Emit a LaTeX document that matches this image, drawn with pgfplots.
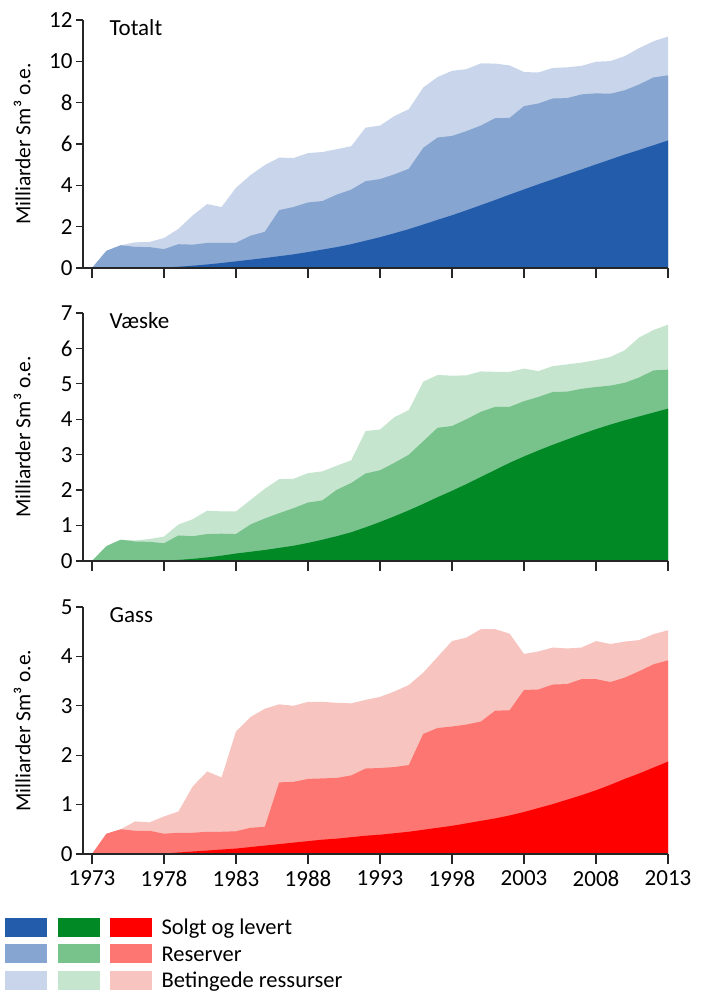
\documentclass[border=0pt]{standalone}
\usepackage{fontspec}
\setmainfont{Carlito}
\usepackage{pgfplots}
\pgfplotsset{compat=1.18}

\definecolor{bS}{RGB}{36,92,172}
\definecolor{bR}{RGB}{134,165,208}
\definecolor{bB}{RGB}{200,213,234}
\definecolor{gS}{RGB}{0,137,37}
\definecolor{gR}{RGB}{120,194,140}
\definecolor{gB}{RGB}{198,229,207}
\definecolor{rS}{RGB}{255,0,0}
\definecolor{rR}{RGB}{253,118,113}
\definecolor{rB}{RGB}{248,196,191}

\newcommand{\fnt}{\fontsize{21.5bp}{26bp}\selectfont}
\newcommand{\tfnt}{\fontsize{23bp}{27bp}\selectfont}
\newcommand{\lfnt}{\fontsize{22.5bp}{27bp}\selectfont}

\pgfplotsset{
  panel/.style={
    scale only axis, width=585bp,
    xmin=1972.375, xmax=2013, ymin=0,
    axis lines*=left, axis on top,
    enlargelimits=false,
    tick align=outside,
    major tick length=7bp,
    xtick={1973,1978,...,2013},
    xtick style={/pgfplots/major tick length=10bp},
    axis line style={line width=1.3bp, black!85},
    tick style={line width=1.3bp, black!85},
    /pgf/number format/assume math mode=true,
    /pgf/number format/1000 sep={},
    tick label style={font=\tfnt},
    xticklabel style={yshift=-6bp},
    label style={font=\fnt},
    ylabel={Milliarder Sm³ o.e.},
    ylabel style={at={(axis description cs:-0.104,0.5)}, anchor=center},
  },
  area/.style={draw=none, fill=#1},
}

\begin{document}
\begin{tikzpicture}[x=1bp,y=1bp]
\useasboundingbox (0,0) rectangle (703,992);

% ---------------- Totalt ----------------
\begin{axis}[panel, at={(83bp,724bp)}, anchor=south west, height=248bp,
  ymax=12, ytick={0,2,...,12}, xticklabels={}]
\addplot[area=bB] coordinates {(1973,0)(1974,0.83)(1975,1.1)(1976,1.24)(1977,1.26)(1978,1.45)(1979,1.89)(1980,2.55)(1981,3.09)(1982,2.95)(1983,3.88)(1984,4.49)(1985,4.98)(1986,5.34)(1987,5.32)(1988,5.56)(1989,5.61)(1990,5.75)(1991,5.89)(1992,6.79)(1993,6.89)(1994,7.35)(1995,7.68)(1996,8.73)(1997,9.24)(1998,9.54)(1999,9.62)(2000,9.9)(2001,9.89)(2002,9.8)(2003,9.48)(2004,9.46)(2005,9.68)(2006,9.71)(2007,9.78)(2008,9.98)(2009,10.01)(2010,10.25)(2011,10.64)(2012,10.97)(2013,11.2)} \closedcycle;
\addplot[area=bR] coordinates {(1973,0)(1974,0.83)(1975,1.1)(1976,1.02)(1977,1.01)(1978,0.91)(1979,1.15)(1980,1.13)(1981,1.21)(1982,1.22)(1983,1.22)(1984,1.56)(1985,1.75)(1986,2.8)(1987,2.95)(1988,3.17)(1989,3.24)(1990,3.55)(1991,3.79)(1992,4.2)(1993,4.3)(1994,4.53)(1995,4.8)(1996,5.81)(1997,6.31)(1998,6.39)(1999,6.62)(2000,6.89)(2001,7.25)(2002,7.26)(2003,7.83)(2004,7.96)(2005,8.2)(2006,8.22)(2007,8.4)(2008,8.45)(2009,8.43)(2010,8.6)(2011,8.88)(2012,9.22)(2013,9.32)} \closedcycle;
\addplot[area=bS] coordinates {(1973,0)(1974,0)(1975,0)(1976,0)(1977,0)(1978,0.02)(1979,0.06)(1980,0.11)(1981,0.17)(1982,0.24)(1983,0.32)(1984,0.4)(1985,0.48)(1986,0.57)(1987,0.66)(1988,0.77)(1989,0.89)(1990,1.01)(1991,1.15)(1992,1.32)(1993,1.49)(1994,1.68)(1995,1.88)(1996,2.1)(1997,2.33)(1998,2.55)(1999,2.79)(2000,3.04)(2001,3.29)(2002,3.55)(2003,3.8)(2004,4.05)(2005,4.29)(2006,4.53)(2007,4.77)(2008,5.01)(2009,5.25)(2010,5.49)(2011,5.71)(2012,5.94)(2013,6.17)} \closedcycle;
\node[anchor=base west, font=\tfnt, inner sep=0pt] at (axis description cs:0.045,0.936) {Totalt};
\end{axis}

% ---------------- Væske ----------------
\begin{axis}[panel, at={(83bp,431bp)}, anchor=south west, height=248bp,
  ymax=7, ytick={0,1,...,7}, xticklabels={}]
\addplot[area=gB] coordinates {(1973,0)(1974,0.42)(1975,0.6)(1976,0.58)(1977,0.62)(1978,0.69)(1979,1.03)(1980,1.18)(1981,1.42)(1982,1.4)(1983,1.4)(1984,1.72)(1985,2.04)(1986,2.31)(1987,2.32)(1988,2.48)(1989,2.53)(1990,2.69)(1991,2.84)(1992,3.67)(1993,3.71)(1994,4.06)(1995,4.26)(1996,5.06)(1997,5.25)(1998,5.23)(1999,5.24)(2000,5.35)(2001,5.34)(2002,5.34)(2003,5.43)(2004,5.36)(2005,5.5)(2006,5.55)(2007,5.6)(2008,5.67)(2009,5.76)(2010,5.95)(2011,6.31)(2012,6.52)(2013,6.67)} \closedcycle;
\addplot[area=gR] coordinates {(1973,0)(1974,0.42)(1975,0.6)(1976,0.55)(1977,0.54)(1978,0.5)(1979,0.72)(1980,0.7)(1981,0.76)(1982,0.77)(1983,0.76)(1984,1.03)(1985,1.2)(1986,1.35)(1987,1.49)(1988,1.65)(1989,1.71)(1990,2.01)(1991,2.2)(1992,2.47)(1993,2.56)(1994,2.77)(1995,3.0)(1996,3.38)(1997,3.76)(1998,3.81)(1999,4.0)(2000,4.21)(2001,4.35)(2002,4.35)(2003,4.51)(2004,4.63)(2005,4.77)(2006,4.78)(2007,4.86)(2008,4.91)(2009,4.95)(2010,5.03)(2011,5.18)(2012,5.38)(2013,5.4)} \closedcycle;
\addplot[area=gS] coordinates {(1973,0)(1974,0)(1975,0)(1976,0)(1977,0)(1978,0.01)(1979,0.03)(1980,0.06)(1981,0.1)(1982,0.15)(1983,0.21)(1984,0.26)(1985,0.31)(1986,0.37)(1987,0.43)(1988,0.51)(1989,0.6)(1990,0.7)(1991,0.81)(1992,0.95)(1993,1.1)(1994,1.26)(1995,1.43)(1996,1.61)(1997,1.8)(1998,1.98)(1999,2.17)(2000,2.37)(2001,2.57)(2002,2.77)(2003,2.95)(2004,3.12)(2005,3.28)(2006,3.43)(2007,3.58)(2008,3.72)(2009,3.85)(2010,3.97)(2011,4.08)(2012,4.19)(2013,4.3)} \closedcycle;
\node[anchor=base west, font=\tfnt, inner sep=0pt] at (axis description cs:0.045,0.936) {Væske};
\end{axis}

% ---------------- Gass ----------------
\begin{axis}[panel, at={(83bp,138bp)}, anchor=south west, height=247bp,
  ymax=5, ytick={0,1,...,5},
  legend columns=3,
  legend image code/.code={
    \fill[#1, draw=none] (0bp,-2bp) rectangle (42bp,17bp);
    \path[draw=none, fill=none] (0bp,-5bp) rectangle (51.5bp,18bp);
  },
  legend style={
    at={(axis description cs:-0.1333,-0.255)}, anchor=north west,
    draw=none, fill=none, inner sep=0pt, outer sep=0pt,
    font=\lfnt, column sep=0pt, row sep=3.5bp,
    nodes={inner sep=0pt},
    cells={anchor=base west},
  },
]
\addplot[area=rB, forget plot] coordinates {(1973,0)(1974,0.41)(1975,0.5)(1976,0.66)(1977,0.64)(1978,0.76)(1979,0.86)(1980,1.37)(1981,1.67)(1982,1.55)(1983,2.48)(1984,2.77)(1985,2.94)(1986,3.03)(1987,3.0)(1988,3.08)(1989,3.08)(1990,3.06)(1991,3.05)(1992,3.12)(1993,3.18)(1994,3.29)(1995,3.42)(1996,3.67)(1997,3.99)(1998,4.31)(1999,4.38)(2000,4.55)(2001,4.55)(2002,4.46)(2003,4.05)(2004,4.1)(2005,4.18)(2006,4.16)(2007,4.18)(2008,4.31)(2009,4.25)(2010,4.3)(2011,4.33)(2012,4.45)(2013,4.53)} \closedcycle;
\addplot[area=rR, forget plot] coordinates {(1973,0)(1974,0.41)(1975,0.5)(1976,0.47)(1977,0.47)(1978,0.41)(1979,0.43)(1980,0.43)(1981,0.45)(1982,0.45)(1983,0.46)(1984,0.53)(1985,0.55)(1986,1.45)(1987,1.46)(1988,1.52)(1989,1.53)(1990,1.54)(1991,1.59)(1992,1.73)(1993,1.74)(1994,1.76)(1995,1.8)(1996,2.43)(1997,2.55)(1998,2.58)(1999,2.62)(2000,2.68)(2001,2.9)(2002,2.91)(2003,3.32)(2004,3.33)(2005,3.43)(2006,3.44)(2007,3.54)(2008,3.54)(2009,3.48)(2010,3.57)(2011,3.7)(2012,3.84)(2013,3.92)} \closedcycle;
\addplot[area=rS, forget plot] coordinates {(1973,0)(1974,0)(1975,0)(1976,0)(1977,0)(1978,0.01)(1979,0.03)(1980,0.05)(1981,0.07)(1982,0.09)(1983,0.11)(1984,0.14)(1985,0.17)(1986,0.2)(1987,0.23)(1988,0.26)(1989,0.29)(1990,0.31)(1991,0.34)(1992,0.37)(1993,0.39)(1994,0.42)(1995,0.45)(1996,0.49)(1997,0.53)(1998,0.57)(1999,0.62)(2000,0.67)(2001,0.72)(2002,0.78)(2003,0.85)(2004,0.93)(2005,1.01)(2006,1.1)(2007,1.19)(2008,1.29)(2009,1.4)(2010,1.52)(2011,1.63)(2012,1.75)(2013,1.87)} \closedcycle;
\node[anchor=base west, font=\tfnt, inner sep=0pt] at (axis description cs:0.045,0.936) {Gass};
\addlegendimage{fill=bS, draw=none}\addlegendentry{}
\addlegendimage{fill=gS, draw=none}\addlegendentry{}
\addlegendimage{fill=rS, draw=none}\addlegendentry{Solgt og levert}
\addlegendimage{fill=bR, draw=none}\addlegendentry{}
\addlegendimage{fill=gR, draw=none}\addlegendentry{}
\addlegendimage{fill=rR, draw=none}\addlegendentry{Reserver}
\addlegendimage{fill=bB, draw=none}\addlegendentry{}
\addlegendimage{fill=gB, draw=none}\addlegendentry{}
\addlegendimage{fill=rB, draw=none}\addlegendentry{Betingede ressurser}
\end{axis}
\end{tikzpicture}
\end{document}
